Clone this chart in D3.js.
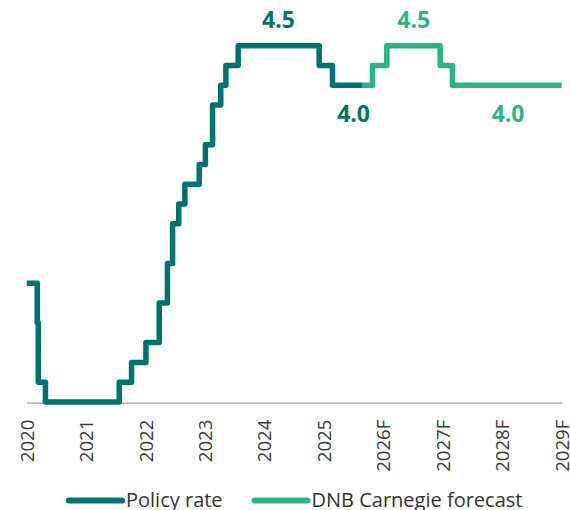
<!DOCTYPE html>
<html>
<head>
<meta charset="utf-8">
<script src="https://cdn.jsdelivr.net/npm/d3@7"></script>
<style>
  html, body { margin: 0; padding: 0; background: #fff; }
  svg { display: block; }
</style>
</head>
<body>
<svg id="chart" width="570" height="510"></svg>
<script>
// ---- data ----
const categories = ["2020","2021","2022","2023","2024","2025","2026F","2027F","2028F","2029F"];

const policyDates = ["2020-01-01","2020-03-13","2020-03-20","2020-05-08","2021-09-24","2021-12-17",
  "2022-03-25","2022-06-24","2022-08-19","2022-09-23","2022-11-04","2022-12-16","2023-03-24",
  "2023-05-05","2023-06-23","2023-08-18","2023-09-22","2023-12-15","2025-06-20","2025-09-19","2026-04-08"];
const policyValues = [1.5,1.0,0.25,0,0.25,0.5,0.75,1.25,1.75,2.25,2.5,2.75,3.0,3.25,3.75,4.0,4.25,4.5,4.25,4.0,4.0];

const forecastDates = ["2026-04-08","2026-06-19","2026-09-25","2027-09-24","2027-12-17","2030-01-01"];
const forecastValues = [4.0,4.25,4.5,4.25,4.0,4.0];

const labelSeries = ["policy","policy","forecast","forecast"];
const labelDates = ["2024-09-15","2026-02-10","2027-03-28","2028-12-31"];
const labelValues = [4.5,4.0,4.5,4.0];
const labelPlacement = ["above","below","above","below"];

const legendNames = ["Policy rate","DNB Carnegie forecast"];

// ---- styling ----
const colors = { policy: "#00736e", forecast: "#2db581" };
const parse = d3.timeParse("%Y-%m-%d");

const svg = d3.select("#chart");
const left = 26.7, right = 561.7;

const x = d3.scaleTime().domain([parse("2020-01-01"), parse("2030-01-01")]).range([left, right]);
const y = d3.scaleLinear().domain([0, 4.5]).range([402, 45.7]);
const xCat = d3.scalePoint().domain(categories).range([left, right]);

// axis
const axis = d3.axisBottom(xCat).tickSize(0).tickSizeOuter(0);
const gAxis = svg.append("g").attr("transform", "translate(0,402.7)").call(axis);
gAxis.select(".domain").attr("stroke", "#a0a0a0").attr("stroke-width", 1.2);
gAxis.selectAll(".tick text")
  .attr("transform", "rotate(-90)")
  .attr("text-anchor", "end")
  .attr("x", -17)
  .attr("y", 0)
  .attr("dy", "0.35em")
  .attr("fill", "#3a3a3a")
  .style("font-family", "'Open Sans', 'Noto Sans', sans-serif")
  .style("font-size", "18.6px");

// lines
const line = d3.line()
  .x(d => x(d.date))
  .y(d => y(d.value))
  .curve(d3.curveStepAfter);

const policy = policyDates.map((d, i) => ({ date: parse(d), value: policyValues[i] }));
const forecast = forecastDates.map((d, i) => ({ date: parse(d), value: forecastValues[i] }));

[["policy", policy], ["forecast", forecast]].forEach(([k, data]) => {
  svg.append("path")
    .datum(data)
    .attr("d", line)
    .attr("fill", "none")
    .attr("stroke", colors[k])
    .attr("stroke-width", 5.5)
    .attr("stroke-linejoin", "round")
    .attr("stroke-linecap", "butt");
});

// value labels
labelDates.forEach((d, i) => {
  const yy = y(labelValues[i]);
  svg.append("text")
    .attr("x", x(parse(d)))
    .attr("y", labelPlacement[i] === "above" ? yy - 17.7 : yy + 36.5)
    .attr("text-anchor", "middle")
    .attr("fill", colors[labelSeries[i]])
    .style("font-family", "'Open Sans', 'Noto Sans', sans-serif")
    .style("font-weight", "700")
    .style("font-size", "23px")
    .text(labelValues[i].toFixed(1));
});

// legend
const legendX = [69, 254.5];
const legendKeys = ["policy", "forecast"];
legendNames.forEach((name, i) => {
  const g = svg.append("g");
  g.append("line")
    .attr("x1", legendX[i]).attr("x2", legendX[i] + 53)
    .attr("y1", 500.5).attr("y2", 500.5)
    .attr("stroke", colors[legendKeys[i]])
    .attr("stroke-width", 6)
    .attr("stroke-linecap", "round");
  g.append("text")
    .attr("x", legendX[i] + 57)
    .attr("y", 507)
    .attr("fill", "#333")
    .style("font-family", "'Open Sans', 'Noto Sans', sans-serif")
    .style("font-size", "20px")
    .text(name);
});
</script>
</body>
</html>
